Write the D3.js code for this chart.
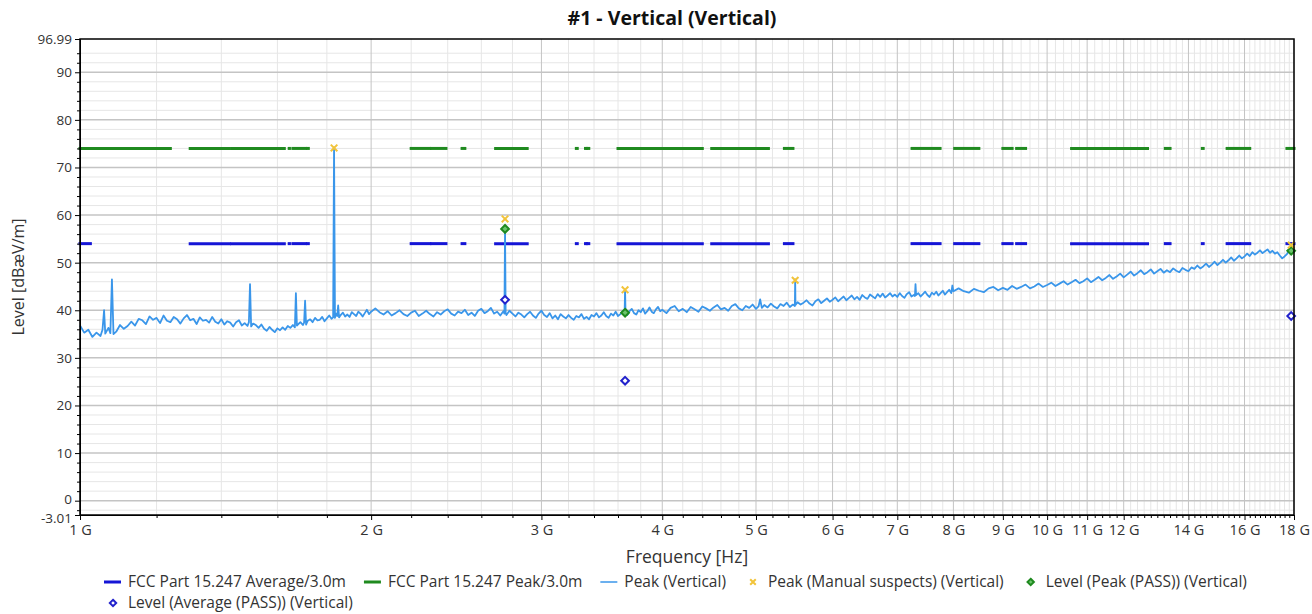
<!DOCTYPE html>
<html>
<head>
	<meta charset="utf-8">
	<title>#1 - Vertical</title>
	<script src="https://d3js.org/d3.v7.min.js"></script>
	<style type="text/css">
		body{margin:0;background:#fff;}
		text{font-family:"Open Sans",sans-serif;fill:#333;}
		.axis path{stroke:#000;}
		.axis line{stroke:#000;}
		.axis text{font-size:14.5px;fill:#333;}
		.yaxis text{font-size:13.5px;}
	</style>
</head>
<body>
	<script type="text/javascript">
		var w = 1312;
		var h = 614;
		var mLeft = 80, mRight = 1294, mTop = 39, mBottom = 515;

		// restricted bands where the limit lines are drawn (GHz)
		var peakBands = [[1.0,1.24],[1.3,1.427],[1.435,1.6265],[1.6455,1.6465],[1.66,1.71],[1.7188,1.7222],
			[2.2,2.3],[2.31,2.39],[2.4835,2.5],[2.69,2.9],[3.26,3.267],[3.332,3.339],[3.3458,3.358],
			[3.6,4.4],[4.5,5.15],[5.35,5.46],[7.25,7.75],[8.025,8.5],[9.0,9.2],[9.3,9.5],
			[10.6,12.7],[13.25,13.4],[14.47,14.5],[15.35,16.2],[17.7,18.0]];
		var avgBands = [[1.0,1.025],[1.3,1.427],[1.435,1.6265],[1.6455,1.6465],[1.66,1.71],[1.7188,1.7222],
			[2.2,2.3],[2.31,2.39],[2.4835,2.5],[2.69,2.9],[3.26,3.267],[3.332,3.339],[3.3458,3.358],
			[3.6,4.4],[4.5,5.15],[5.35,5.46],[7.25,7.75],[8.025,8.5],[9.0,9.2],[9.3,9.5],
			[10.6,12.7],[13.25,13.4],[14.47,14.5],[15.35,16.2],[17.7,18.0]];
		var peakLimit = 74;
		var avgLimit = 54;

		// Peak (Vertical) trace: [GHz, dBuV/m]
		var peakTrace = [
			[1.00,36.8],[1.01,35.3],[1.02,35.9],[1.03,34.4],[1.04,35.3],[1.05,34.6],[1.055,35.9],[1.059,40.0],[1.062,35.1],
			[1.07,36.3],[1.075,35.2],[1.079,46.5],[1.083,35.0],[1.09,35.5],[1.10,36.9],[1.11,36.1],[1.12,36.7],[1.13,37.6],
			[1.14,36.8],[1.15,38.2],[1.16,37.9],[1.17,37.1],[1.18,38.7],[1.19,38.0],[1.20,38.4],[1.21,37.3],[1.22,38.9],
			[1.23,37.8],[1.24,37.5],[1.25,38.6],[1.26,38.1],[1.27,37.2],[1.28,38.3],[1.29,39.0],[1.30,37.9],[1.31,38.2],
			[1.32,37.1],[1.33,38.5],[1.34,37.8],[1.35,38.0],[1.36,37.4],[1.37,38.6],[1.38,37.6],[1.39,37.2],[1.40,38.1],
			[1.41,37.0],[1.42,37.7],[1.43,37.4],[1.44,36.6],[1.45,37.5],[1.46,37.9],[1.47,36.8],[1.48,37.3],[1.49,36.7],
			[1.495,37.5],[1.499,45.5],[1.503,36.6],[1.51,37.2],[1.52,36.9],[1.53,36.3],[1.54,37.0],[1.55,36.1],[1.56,35.7],
			[1.57,36.5],[1.58,35.9],[1.59,35.4],[1.60,36.2],[1.61,35.8],[1.62,36.4],[1.63,35.9],[1.64,36.7],[1.65,36.3],
			[1.66,36.9],[1.668,36.4],[1.672,43.6],[1.676,36.8],[1.69,37.5],[1.70,36.9],[1.705,37.4],[1.709,42.0],[1.713,37.0],
			[1.72,37.8],[1.73,38.1],[1.74,37.5],[1.75,38.4],[1.76,37.9],[1.77,38.0],[1.78,38.6],[1.79,37.7],[1.80,38.3],
			[1.81,38.9],[1.82,38.2],[1.827,38.5],[1.831,74.2],[1.835,38.4],[1.84,39.3],[1.845,38.8],[1.849,41.0],[1.853,38.5],
			[1.86,39.0],[1.87,39.5],[1.88,38.7],[1.89,39.1],[1.90,38.6],[1.91,39.6],[1.92,39.2],[1.93,38.8],[1.94,39.7],
			[1.95,39.3],[1.96,38.7],[1.97,39.4],[1.98,40.1],[1.99,39.2],[2.00,39.7],
			[2.02,40.4],[2.04,39.6],[2.06,39.1],[2.08,39.8],[2.10,38.9],[2.12,39.4],[2.14,40.0],[2.16,39.2],[2.18,38.8],
			[2.20,39.5],[2.22,39.9],[2.24,38.8],[2.26,39.3],[2.28,39.9],[2.30,39.2],[2.32,38.7],[2.34,39.6],[2.36,39.1],
			[2.38,39.8],[2.40,40.2],[2.42,39.3],[2.44,38.9],[2.46,39.7],[2.48,39.4],[2.50,40.1],[2.52,39.0],[2.54,39.5],
			[2.56,38.8],[2.58,39.9],[2.60,40.3],[2.62,39.4],[2.64,39.8],[2.66,40.5],[2.68,39.3],[2.70,39.7],[2.72,38.9],
			[2.74,39.8],[2.747,39.3],[2.751,57.0],[2.755,39.5],[2.76,39.0],[2.78,39.9],[2.80,39.3],[2.82,38.7],[2.84,39.5],
			[2.86,39.1],[2.88,38.5],[2.90,39.2],[2.92,39.7],[2.94,38.9],[2.96,38.4],[2.98,39.3],[3.00,39.9],[3.02,39.0],
			[3.04,38.6],[3.06,39.4],[3.08,38.3],[3.10,38.9],[3.12,38.1],[3.14,39.2],[3.16,38.7],[3.18,38.3],[3.20,39.0],
			[3.22,38.4],[3.24,38.0],[3.26,38.8],[3.28,38.5],[3.30,39.2],[3.32,38.2],[3.34,38.6],[3.36,38.1],[3.38,39.0],
			[3.40,38.7],[3.42,39.4],[3.44,38.5],[3.46,38.9],[3.48,39.6],[3.50,38.8],[3.52,38.4],[3.54,39.3],[3.56,38.9],
			[3.58,39.7],[3.60,38.8],[3.62,39.2],[3.64,39.8],[3.657,39.4],[3.661,44.3],[3.665,39.5],[3.68,39.0],[3.70,39.8],
			[3.72,40.3],[3.74,39.4],[3.76,39.1],[3.78,40.0],[3.80,39.6],[3.82,40.4],[3.84,39.3],[3.86,39.8],[3.88,40.6],
			[3.90,39.7],[3.92,39.4],[3.94,40.2],[3.96,40.7],[3.98,39.8],
			[4.00,40.1],[4.04,39.4],[4.08,40.5],[4.12,40.9],[4.16,39.8],[4.20,40.3],[4.24,39.6],[4.28,40.7],[4.32,40.2],
			[4.36,39.7],[4.40,40.8],[4.44,40.4],[4.48,39.9],[4.52,40.6],[4.56,41.1],[4.60,40.2],[4.64,40.5],[4.68,39.9],
			[4.72,40.9],[4.76,41.3],[4.80,40.4],[4.84,40.0],[4.88,40.9],[4.92,40.5],[4.96,41.2],[5.00,40.3],[5.03,40.8],
			[5.05,42.3],[5.07,40.5],[5.10,41.1],[5.14,40.6],[5.18,41.4],[5.22,40.8],[5.26,40.4],[5.30,41.3],[5.34,40.9],
			[5.38,41.6],[5.42,40.7],[5.46,41.2],[5.485,40.9],[5.489,46.5],[5.493,41.1],[5.52,41.7],[5.56,41.2],[5.60,41.6],
			[5.64,42.1],[5.68,41.4],[5.72,41.0],[5.76,41.9],[5.80,42.3],[5.84,41.5],[5.88,42.0],[5.92,42.5],[5.96,41.8],
			[6.00,42.2],[6.04,42.7],[6.08,41.9],[6.12,42.4],[6.16,42.9],[6.20,42.1],[6.24,42.6],[6.28,43.1],[6.32,42.3],
			[6.36,42.8],[6.40,42.2],[6.44,43.2],[6.48,42.7],[6.52,42.4],[6.56,43.3],[6.60,42.9],[6.64,42.5],[6.68,43.4],
			[6.72,42.8],[6.76,43.5],[6.80,42.7],[6.84,43.1],[6.88,43.6],[6.92,42.9],[6.96,43.3],[7.00,42.8],[7.04,43.6],
			[7.08,43.0],[7.12,42.6],[7.16,43.4],[7.20,43.8],[7.24,42.9],[7.28,43.2],[7.30,43.0],[7.31,45.5],[7.32,43.2],
			[7.36,43.6],[7.40,42.9],[7.44,43.4],[7.48,43.9],[7.52,43.2],[7.56,42.8],[7.60,43.7],[7.64,43.3],[7.68,43.9],
			[7.72,43.1],[7.76,43.6],[7.80,44.1],[7.84,43.3],[7.88,43.8],[7.92,44.3],[7.96,43.6],[7.98,45.2],[8.00,44.0],
			[8.1,44.6],[8.2,44.0],[8.3,43.7],[8.4,44.5],[8.5,44.1],[8.6,43.8],[8.7,44.6],[8.8,44.9],[8.9,44.2],
			[9.0,44.7],[9.1,44.3],[9.2,45.1],[9.3,44.5],[9.4,44.9],[9.5,45.4],[9.6,44.6],[9.7,45.0],[9.8,45.6],
			[9.9,44.9],[10.0,45.3],[10.1,45.8],[10.2,45.1],[10.3,45.6],[10.4,46.1],[10.5,45.4],[10.6,45.9],[10.7,46.4],
			[10.8,45.7],[10.9,46.1],[11.0,46.7],[11.1,45.9],[11.2,46.4],[11.3,47.0],[11.4,46.3],[11.5,46.8],[11.6,47.4],
			[11.7,46.6],[11.8,47.1],[11.9,47.7],[12.0,46.9],[12.1,47.5],[12.2,48.1],[12.3,47.3],[12.4,47.8],[12.5,48.4],
			[12.6,47.6],[12.7,48.0],[12.8,48.6],[12.9,47.7],[13.0,48.2],[13.1,48.7],[13.2,47.9],[13.3,48.4],[13.4,48.0],
			[13.5,48.8],[13.6,48.3],[13.7,48.0],[13.8,48.9],[13.9,48.5],[14.0,48.2],[14.1,49.0],[14.2,48.7],[14.3,49.4],
			[14.4,48.8],[14.5,49.2],[14.6,49.8],[14.7,49.1],[14.8,49.6],[14.9,50.2],[15.0,49.5],[15.1,50.0],[15.2,50.6],
			[15.3,50.0],[15.4,50.5],[15.5,51.1],[15.6,50.4],[15.7,50.9],[15.8,51.5],[15.9,50.9],[16.0,51.3],[16.1,51.9],
			[16.2,51.4],[16.3,52.2],[16.4,51.7],[16.5,52.1],[16.6,52.6],[16.7,52.0],[16.8,52.4],[16.9,52.8],[17.0,52.1],
			[17.1,52.5],[17.2,51.9],[17.3,52.2],[17.4,51.5],[17.5,50.9],[17.6,51.3],[17.7,51.8],[17.8,52.7],[17.9,53.0],
			[18.0,52.6]
		];

		// markers
		var manualSuspects = [[1.831,74.1],[2.751,59.2],[3.661,44.3],[5.489,46.3],[17.88,53.7]];
		var levelPeakPass = [[2.751,57.1],[3.661,39.5],[17.88,52.5]];
		var levelAvgPass = [[2.751,42.2],[3.661,25.2],[17.88,38.8]];

		// axis ticks
		var xTickValues = [1,2,3,4,5,6,7,8,9,10,11,12,14,16,18];
		var yTickValues = [0,10,20,30,40,50,60,70,80,90];
		var yEnds = [-3.01, 96.99];

		var svg = d3.select("body").append("svg")
			.attr("width",w)
			.attr("height",h);

		var xScale = d3.scaleLog().domain([1,18]).range([mLeft,mRight]);
		var yScale = d3.scaleLinear().domain([yEnds[0],yEnds[1]]).range([mBottom,mTop]);

		// minor frequencies every 0.2 GHz
		var xMinor = d3.range(1,18.001,0.2).map(function(d){return +d.toFixed(1);})
			.filter(function(d){return xTickValues.indexOf(d) < 0;});
		var yMinor = d3.range(-2,96,2).filter(function(d){return d % 10 != 0;});

		// grid
		var grid = svg.append("g");
		grid.selectAll(".xminor").data(xMinor).enter().append("line")
			.attr("x1",function(d){return xScale(d);}).attr("x2",function(d){return xScale(d);})
			.attr("y1",mTop).attr("y2",mBottom)
			.attr("stroke","#e6e6e6").attr("stroke-width",1);
		grid.selectAll(".yminor").data(yMinor).enter().append("line")
			.attr("x1",mLeft).attr("x2",mRight)
			.attr("y1",function(d){return yScale(d);}).attr("y2",function(d){return yScale(d);})
			.attr("stroke","#e6e6e6").attr("stroke-width",1);
		grid.selectAll(".xmajor").data(xTickValues).enter().append("line")
			.attr("x1",function(d){return xScale(d);}).attr("x2",function(d){return xScale(d);})
			.attr("y1",mTop).attr("y2",mBottom)
			.attr("stroke","#c4c4c4").attr("stroke-width",1);
		grid.selectAll(".ymajor").data(yTickValues).enter().append("line")
			.attr("x1",mLeft).attr("x2",mRight)
			.attr("y1",function(d){return yScale(d);}).attr("y2",function(d){return yScale(d);})
			.attr("stroke","#c4c4c4").attr("stroke-width",1.5);

		// limit lines
		svg.selectAll(".avgLim").data(avgBands).enter().append("line")
			.attr("x1",function(d){return xScale(d[0]);}).attr("x2",function(d){return xScale(d[1]);})
			.attr("y1",yScale(avgLimit)).attr("y2",yScale(avgLimit))
			.attr("stroke","#1515d6").attr("stroke-width",3).attr("stroke-linecap","square");
		svg.selectAll(".peakLim").data(peakBands).enter().append("line")
			.attr("x1",function(d){return xScale(d[0]);}).attr("x2",function(d){return xScale(d[1]);})
			.attr("y1",yScale(peakLimit)).attr("y2",yScale(peakLimit))
			.attr("stroke","#1f8a1f").attr("stroke-width",3).attr("stroke-linecap","square");

		// trace
		var line = d3.line()
			.x(function(d){return xScale(d[0]);})
			.y(function(d){return yScale(d[1]);});
		svg.append("path")
			.datum(peakTrace)
			.attr("d",line)
			.attr("fill","none")
			.attr("stroke","#3a96ea")
			.attr("stroke-width",1.8)
			.attr("stroke-linejoin","round");

		// markers
		var diamond = d3.symbol().type(d3.symbolDiamond2).size(38);
		svg.selectAll(".avgPass").data(levelAvgPass).enter().append("path")
			.attr("d",diamond)
			.attr("transform",function(d){return "translate(" + xScale(d[0]) + "," + yScale(d[1]) + ")";})
			.attr("fill","#fff").attr("stroke","#2222cc").attr("stroke-width",2);
		svg.selectAll(".pkPass").data(levelPeakPass).enter().append("path")
			.attr("d",diamond)
			.attr("transform",function(d){return "translate(" + xScale(d[0]) + "," + yScale(d[1]) + ")";})
			.attr("fill","#6cc46c").attr("stroke","#1f8a1f").attr("stroke-width",2);
		var cross = d3.symbol().type(d3.symbolTimes).size(30);
		svg.selectAll(".suspect").data(manualSuspects).enter().append("path")
			.attr("d",cross)
			.attr("transform",function(d){return "translate(" + xScale(d[0]) + "," + yScale(d[1]) + ")";})
			.attr("fill","none").attr("stroke","#f2c43a").attr("stroke-width",2);

		// axes
		var xAxis = d3.axisBottom(xScale).tickValues(xTickValues)
			.tickFormat(function(d){return d + " G";}).tickSize(5).tickSizeOuter(0);
		svg.append("g").attr("class","axis")
			.attr("transform","translate(0," + mBottom + ")")
			.call(xAxis)
			.selectAll("text").attr("dy","0.85em");
		svg.append("g").attr("class","axis")
			.attr("transform","translate(0," + mBottom + ")")
			.call(d3.axisBottom(xScale).tickValues(xMinor).tickFormat("").tickSize(3).tickSizeOuter(0));

		var yAxis = d3.axisLeft(yScale).tickValues(yEnds.concat(yTickValues))
			.tickFormat(function(d){return d;}).tickSize(5).tickSizeOuter(0);
		var yG = svg.append("g").attr("class","axis yaxis")
			.attr("transform","translate(" + mLeft + ",0)")
			.call(yAxis);
		// nudge the end labels so they do not collide with 0 / 90
		yG.selectAll(".tick text").attr("dy",function(d){
			return d == yEnds[0] ? "0.55em" : (d == 0 ? "0.2em" : "0.32em");
		});
		svg.append("g").attr("class","axis")
			.attr("transform","translate(" + mLeft + ",0)")
			.call(d3.axisLeft(yScale).tickValues(yMinor).tickFormat("").tickSize(3).tickSizeOuter(0));

		// frame
		svg.append("rect")
			.attr("x",mLeft).attr("y",mTop).attr("width",mRight-mLeft).attr("height",mBottom-mTop)
			.attr("fill","none").attr("stroke","#000").attr("stroke-width",1.5);

		// titles
		svg.append("text").text("#1 - Vertical (Vertical)")
			.attr("x",w/2 + 16).attr("y",25).attr("text-anchor","middle")
			.attr("font-size","19.5px").attr("font-weight","bold").style("fill","#111");
		svg.append("text").text("Frequency [Hz]")
			.attr("x",(mLeft+mRight)/2).attr("y",563).attr("text-anchor","middle")
			.attr("font-size","17.5px");
		svg.append("text").text("Level [dBæV/m]")
			.attr("transform","translate(24," + ((mTop+mBottom)/2) + ") rotate(-90)")
			.attr("text-anchor","middle").attr("font-size","16px");

		// legend
		var legendItems = [
			{label:"FCC Part 15.247 Average/3.0m", kind:"line", color:"#1515d6", width:3, row:0},
			{label:"FCC Part 15.247 Peak/3.0m", kind:"line", color:"#1f8a1f", width:3, row:0},
			{label:"Peak (Vertical)", kind:"line", color:"#3a96ea", width:1.5, row:0},
			{label:"Peak (Manual suspects) (Vertical)", kind:"cross", color:"#f2c43a", row:0},
			{label:"Level (Peak (PASS)) (Vertical)", kind:"pk", color:"#1f8a1f", row:0},
			{label:"Level (Average (PASS)) (Vertical)", kind:"avg", color:"#2222cc", row:1}
		];
		var rowX = [104,104];
		var rowY = [582,603];
		legendItems.forEach(function(it){
			var g = svg.append("g").attr("transform","translate(" + rowX[it.row] + "," + rowY[it.row] + ")");
			if(it.kind == "line"){
				g.append("line").attr("x1",0).attr("x2",17).attr("y1",0).attr("y2",0)
					.attr("stroke",it.color).attr("stroke-width",it.width);
			} else {
				var sym = it.kind == "cross" ? d3.symbol().type(d3.symbolTimes).size(22) : d3.symbol().type(d3.symbolDiamond2).size(26);
				g.append("path").attr("d",sym).attr("transform","translate(9,0)")
					.attr("fill",it.kind == "pk" ? "#6cc46c" : (it.kind == "avg" ? "#fff" : "none"))
					.attr("stroke",it.color).attr("stroke-width",2);
			}
			var t = g.append("text").text(it.label).attr("x",24).attr("y",0).attr("dy","0.35em")
				.attr("font-size","15.5px");
			rowX[it.row] += 24 + t.node().getComputedTextLength() + 18;
		});
	</script>
</body>
</html>
